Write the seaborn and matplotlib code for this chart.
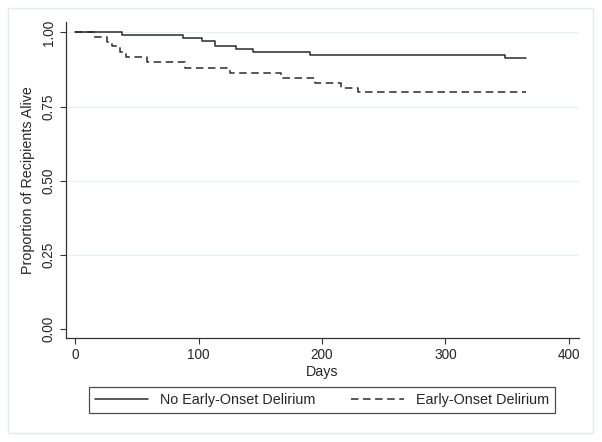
import numpy as np
import pandas as pd
import matplotlib
matplotlib.use('Agg')
import matplotlib.pyplot as plt
from matplotlib.patches import Rectangle
import seaborn as sns

# Kaplan-Meier step values
days_no = [0, 38, 87, 103, 113, 130, 144, 190, 348, 365]
surv_no = [1.0, 0.992, 0.983, 0.972, 0.955, 0.944, 0.934, 0.925, 0.915, 0.915]

days_eo = [0, 15, 26, 30, 36, 41, 58, 89, 125, 167, 194, 215, 229, 365]
surv_eo = [1.0, 0.985, 0.968, 0.954, 0.933, 0.917, 0.899, 0.881, 0.864, 0.847, 0.831, 0.813, 0.798, 0.798]

labels = ['No Early-Onset Delirium', 'Early-Onset Delirium']
x_ticks = [0, 100, 200, 300, 400]
y_ticks = [0.0, 0.25, 0.5, 0.75, 1.0]

sns.set_style('white')
plt.rcParams['font.family'] = ['Liberation Sans', 'DejaVu Sans']

no = pd.DataFrame({'days': days_no, 'surv': surv_no})
eo = pd.DataFrame({'days': days_eo, 'surv': surv_eo})

fig = plt.figure(figsize=(6.02, 4.42), dpi=100, facecolor='white')
ax = fig.add_axes([0.109, 0.235, 0.852, 0.715])

# faint outer frame round the whole graph
fig.patches.append(Rectangle((7.5/602, 1-433/442), (593-7.5)/602, (433-8.3)/442,
                             transform=fig.transFigure, fill=False,
                             edgecolor='#e3ebee', lw=1.0))

for yt in y_ticks[1:]:
    ax.axhline(yt, color='#e8f0f2', lw=0.9, zorder=0)

sns.lineplot(data=no, x='days', y='surv', ax=ax, estimator=None,
             drawstyle='steps-post', color='#2a2a2a', lw=1.1, label=labels[0])
sns.lineplot(data=eo, x='days', y='surv', ax=ax, estimator=None,
             drawstyle='steps-post', color='#2a2a2a', lw=1.1,
             linestyle=(0, (4.9, 3.0)), label=labels[1])

ax.set_xlim(-7.8, 407.8)
ax.set_ylim(-0.030, 1.035)
ax.set_xticks(x_ticks)
ax.set_yticks(y_ticks)
ax.set_yticklabels(['%.2f' % v for v in y_ticks], rotation=90, va='center')
ax.tick_params(axis='both', direction='out', length=4, width=0.8, color='#333333',
               labelsize=9.8, pad=3, left=True, bottom=True)
for s in ['top', 'right']:
    ax.spines[s].set_visible(False)
for s in ['left', 'bottom']:
    ax.spines[s].set_color('#333333')
    ax.spines[s].set_linewidth(0.9)

ax.set_xlabel('Days', fontsize=10.3, labelpad=2)
ax.set_ylabel('Proportion of Recipients Alive', fontsize=10.3, labelpad=5)

ax.get_legend().remove()
h, l = ax.get_legend_handles_labels()
leg = fig.legend(h, l, loc='center', bbox_to_anchor=(0.535, 0.096), ncol=2,
                 frameon=True, fancybox=False, edgecolor='#222222', fontsize=10.4,
                 handlelength=3.7, columnspacing=2.4, handletextpad=0.85,
                 borderpad=0.42, borderaxespad=0)
leg.get_frame().set_linewidth(0.9)

fig.savefig('out.png', dpi=100)
